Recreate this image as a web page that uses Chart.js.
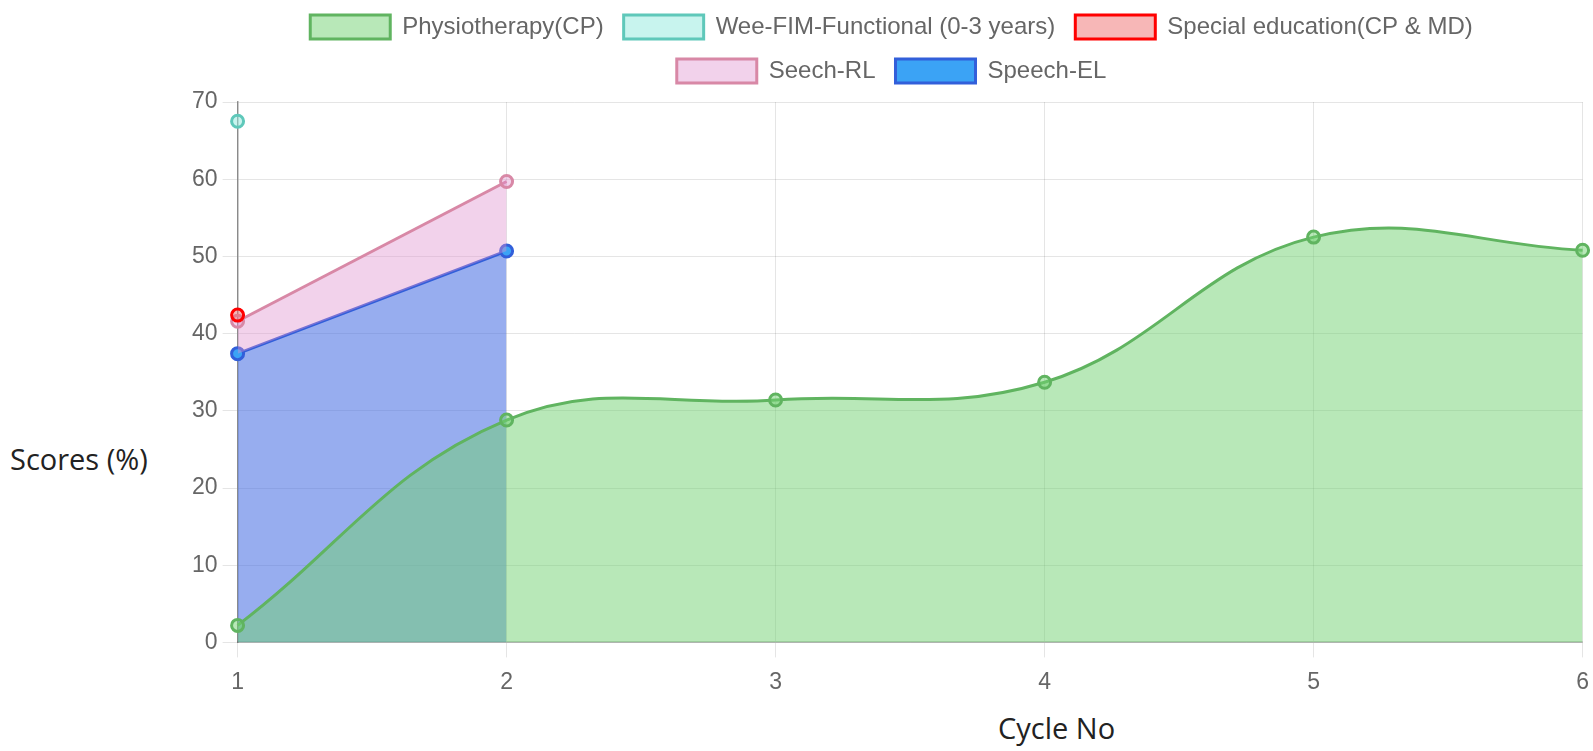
<!DOCTYPE html>
<html>
<head>
<meta charset="utf-8">
<script src="https://cdn.jsdelivr.net/npm/chart.js@4.4.1/dist/chart.umd.min.js"></script>
<style>
  html, body { margin: 0; padding: 0; background: #fff; width: 1593px; height: 751px; overflow: hidden; }
  #wrap { position: absolute; left: 178px; top: -5px; width: 1422px; height: 712px; }
  .axt { position: absolute; font-family: "Open Sans", "Noto Sans", sans-serif; font-size: 29px; line-height: 1; color: #222; white-space: nowrap; }
  #ytitle { left: 10px; top: 444px; }
  #xtitle { left: 998px; top: 713px; }
</style>
</head>
<body>
<div id="wrap"><canvas id="c"></canvas></div>
<div class="axt" id="ytitle">Scores (%)</div>
<div class="axt" id="xtitle">Cycle No</div>
<script>
const categories = ['1', '2', '3', '4', '5', '6'];
const seriesNames = ['Physiotherapy(CP)', 'Wee-FIM-Functional (0-3 years)', 'Special education(CP & MD)', 'Seech-RL', 'Speech-EL'];
const physiotherapy = [2.2, 28.8, 31.4, 33.7, 52.5, 50.8];
const weeFim = [67.5];
const specialEducation = [42.4];
const seechRL = [41.6, 59.7];
const speechEL = [37.4, 50.7];
const yTicks = [0, 10, 20, 30, 40, 50, 60, 70];

const FONT = "'Liberation Sans', Arial, Helvetica, sans-serif";

const legendGap = {
  id: 'legendGap',
  beforeInit(chart) {
    const origFit = chart.legend.fit;
    chart.legend.fit = function () {
      origFit.call(this);
      this.height += 9;
    };
  }
};

new Chart(document.getElementById('c'), {
  type: 'line',
  plugins: [legendGap],
  data: {
    labels: categories,
    datasets: [
      {
        label: seriesNames[0], data: physiotherapy,
        borderColor: 'rgb(96,180,96)', backgroundColor: 'rgba(113,209,113,0.5)',
        fill: { target: 'origin', above: 'rgba(113,209,113,0.5)' },
        tension: 0.4, borderWidth: 3,
        pointRadius: 6, pointBorderWidth: 3, pointBackgroundColor: 'rgba(113,209,113,0.5)'
      },
      {
        label: seriesNames[1], data: weeFim,
        borderColor: 'rgb(95,200,186)', backgroundColor: 'rgba(145,233,221,0.5)',
        fill: false, borderWidth: 3,
        pointRadius: 6, pointBorderWidth: 3
      },
      {
        label: seriesNames[2], data: specialEducation,
        borderColor: 'rgb(255,0,0)', backgroundColor: 'rgba(240,112,112,0.5)',
        fill: false, borderWidth: 3,
        pointRadius: 6, pointBorderWidth: 3
      },
      {
        label: seriesNames[3], data: seechRL,
        borderColor: 'rgb(216,136,166)', backgroundColor: 'rgba(222,142,206,0.4)',
        fill: { target: 4, above: 'rgba(222,142,206,0.4)', below: 'rgba(222,142,206,0.4)' },
        tension: 0, borderWidth: 3,
        pointRadius: 6, pointBorderWidth: 3
      },
      {
        label: seriesNames[4], data: speechEL,
        borderColor: 'rgb(50,95,218)', backgroundColor: 'rgb(59,163,245)',
        fill: { target: 'origin', above: 'rgba(65,105,225,0.55)' },
        tension: 0, borderWidth: 3,
        pointRadius: 6, pointBorderWidth: 3
      }
    ]
  },
  options: {
    responsive: true,
    maintainAspectRatio: false,
    animation: false,
    layout: { padding: { left: 9, right: 4, top: 0, bottom: 0 } },
    plugins: {
      legend: {
        position: 'top',
        labels: {
          boxWidth: 80, boxHeight: 24, padding: 20,
          color: '#666',
          font: { family: FONT, size: 24 }
        }
      },
      tooltip: { enabled: false }
    },
    scales: {
      x: {
        grid: { color: 'rgba(0,0,0,0.1)', tickLength: 15, lineWidth: 1 },
        border: { color: 'rgba(0,0,0,0.22)', width: 2 },
        ticks: { color: '#666', padding: 11, font: { family: FONT, size: 23 } }
      },
      y: {
        min: 0, max: 70,
        afterBuildTicks: (axis) => { axis.ticks = yTicks.map(v => ({ value: v })); },
        grid: { color: 'rgba(0,0,0,0.1)', tickLength: 15, lineWidth: 1 },
        border: { color: 'rgba(0,0,0,0.4)', width: 1.5 },
        ticks: { color: '#666', padding: 5, font: { family: FONT, size: 23 } }
      }
    }
  }
});
</script>
</body>
</html>
